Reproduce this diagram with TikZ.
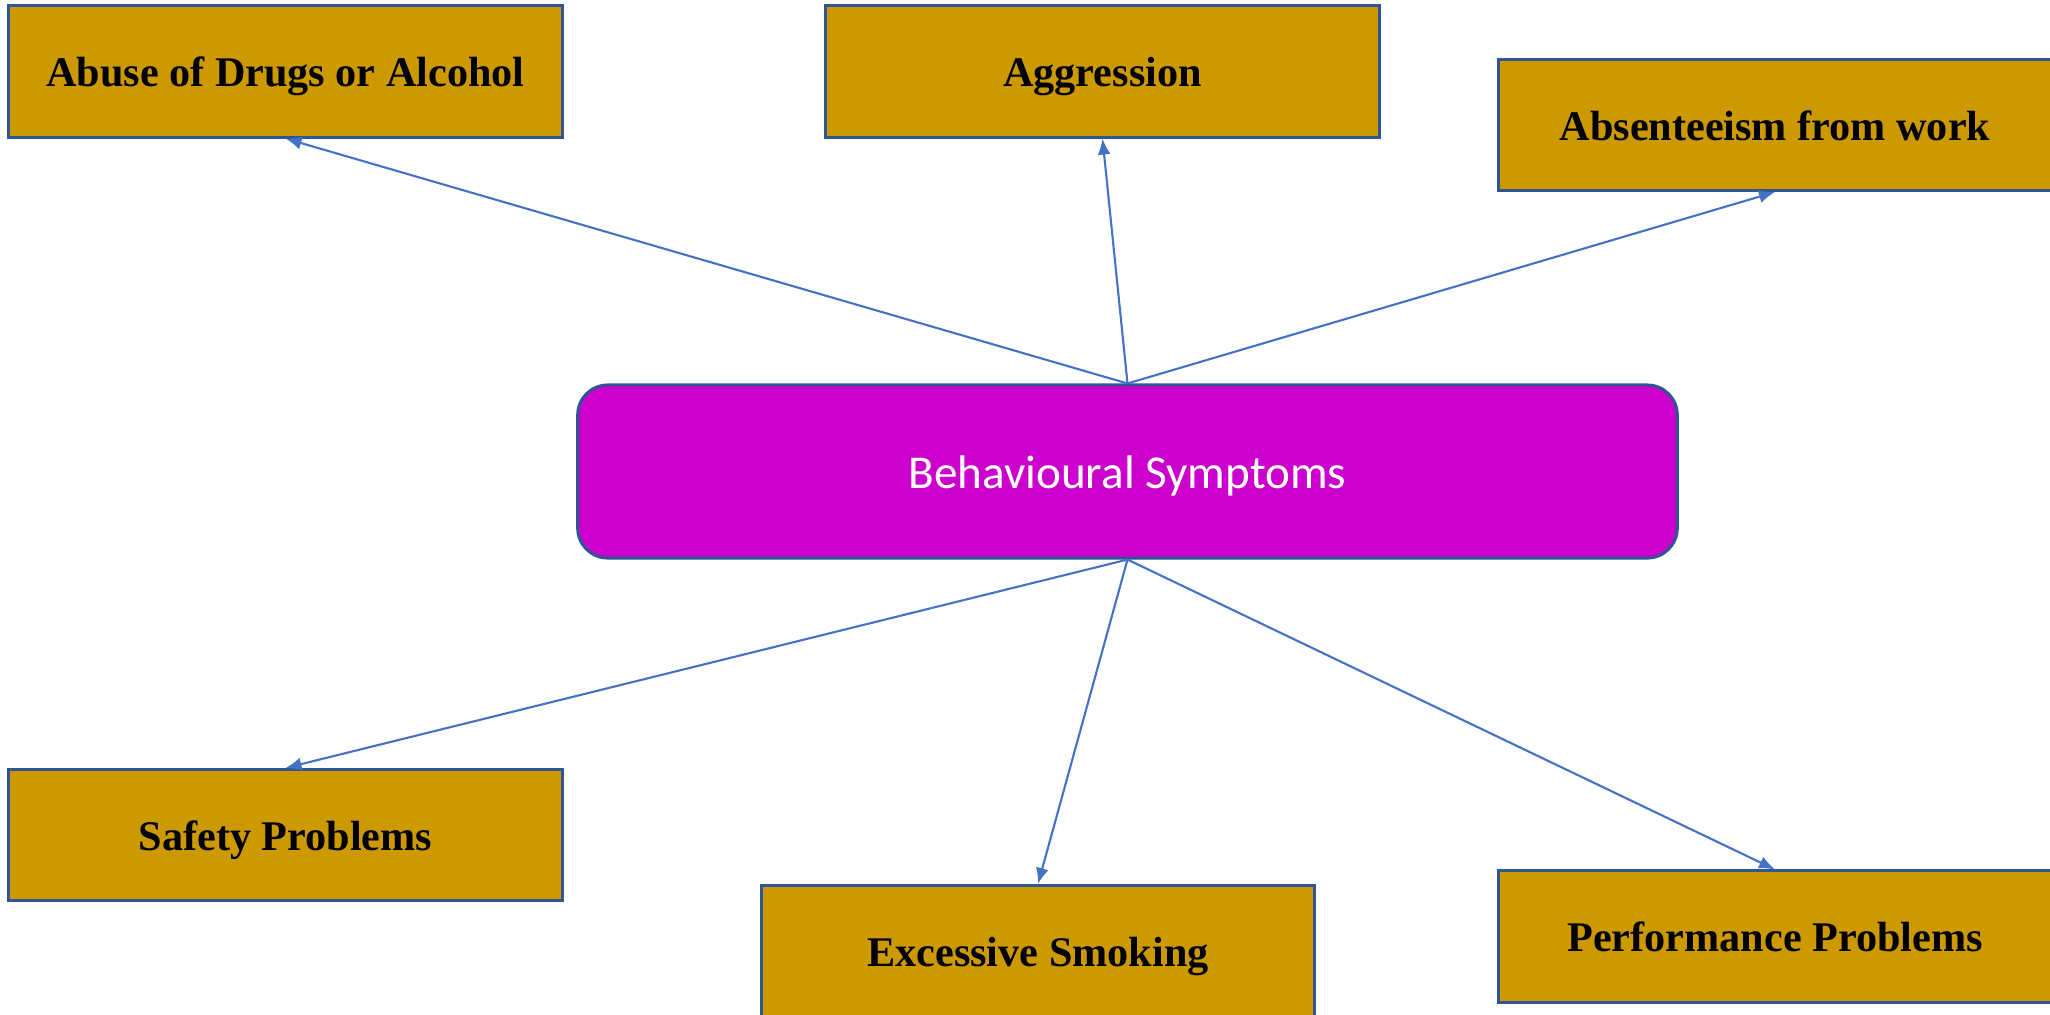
\documentclass[tikz,border=0pt]{standalone}
\usepackage{fontspec}
\setmainfont{Liberation Serif}
\newfontfamily\calibri{Carlito}
\usepackage{tikz}
\usetikzlibrary{arrows.meta}
\usetikzlibrary{shapes}
\usepackage{xcolor}
\definecolor{boxgold}{HTML}{CC9900}
\definecolor{boxmagenta}{HTML}{CC00CC}
\definecolor{boxedge}{HTML}{2F5597}
\definecolor{linkblue}{HTML}{4472C4}
\begin{document}
\begin{tikzpicture}[x=0.01cm,y=-0.01cm]
      \useasboundingbox (0,0) rectangle (2050,1014);
      \tikzstyle{symptom}=[draw=boxedge,fill=boxgold,line width=0.85pt,rectangle,inner sep=0pt,
                           text height=0.3cm,text depth=0pt,
                           minimum width=5.53cm,minimum height=1.31cm,font=\fontsize{12}{14}\selectfont\bfseries]
      \tikzstyle{hub}=[draw=boxedge,fill=boxmagenta,line width=0.85pt,rectangle,rounded corners=0.3cm,
                       text height=0.34cm,text depth=0pt,
                       minimum width=10.99cm,minimum height=1.73cm,text=white,font=\calibri\fontsize{13.4}{16}\selectfont]
      \tikzstyle{link}=[draw=linkblue,line width=0.6pt,-{Latex[length=0.16cm,width=0.13cm]}]
      \node[hub]     (behav)  at (1127.5,471.5) {Behavioural Symptoms};
      \node[symptom] (abuse)  at (285.5,71.5)   {Abuse of Drugs or Alcohol};
      \node[symptom] (aggr)   at (1102.5,71.5)  {Aggression};
      \node[symptom] (absent) at (1775,125)     {Absenteeism from work};
      \node[symptom] (safety) at (285.5,835)    {Safety Problems};
      \node[symptom] (smoke)  at (1038,951)     {Excessive Smoking};
      \node[symptom] (perf)   at (1775,936.5)   {Performance Problems};

    	\draw[link] (behav.north) -- (abuse.south);
    	\draw[link] (behav.north) -- (aggr.south);
    	\draw[link] (behav.north) -- (absent.south);
    	\draw[link] (behav.south) -- (safety.north);
    	\draw[link] (behav.south) -- (smoke.north);
    	\draw[link] (behav.south) -- (perf.north);
    \end{tikzpicture}
\end{document}
